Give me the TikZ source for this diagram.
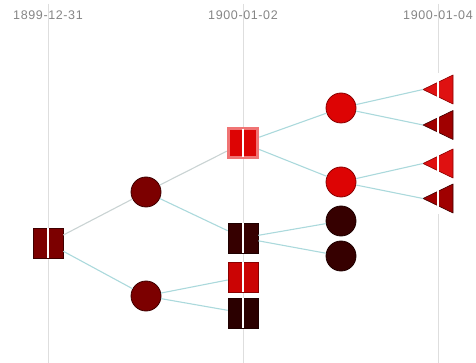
\documentclass[tikz,border=0pt]{standalone}
\usepackage{fontspec}
\newfontfamily\datefont[LetterSpace=5]{Liberation Sans}

\definecolor{gridgray}{HTML}{DEDEDE}
\definecolor{labelgray}{HTML}{858585}
\definecolor{edgecyan}{HTML}{ABD9DC}
\definecolor{edgegray}{HTML}{C9D3D3}
\definecolor{maroon}{HTML}{7C0000}
\definecolor{maroonline}{HTML}{3E0000}
\definecolor{brightred}{HTML}{DD0404}
\definecolor{brightline}{HTML}{8A0000}
\definecolor{pinkline}{HTML}{F07474}
\definecolor{blackred}{HTML}{360000}
\definecolor{blackline}{HTML}{1E0000}
\definecolor{midred}{HTML}{A00000}

\tikzset{
  gridline/.style={draw=gridgray, line width=1},
  datelabel/.style={text=labelgray, font=\datefont\fontsize{12.5}{14}\selectfont},
  edge/.style={draw=edgecyan, line width=1.1},
  greyedge/.style={draw=edgegray, line width=1.1},
  sq/.style={rectangle, minimum size=30, inner sep=0, line width=0.6},
  dot/.style={circle, minimum size=30, inner sep=0, line width=0.8},
  tri/.style={line width=0.6, line join=round},
  split/.style={draw=white, line width=1.6},
}

\begin{document}
\begin{tikzpicture}[x=1pt, y=-1pt]
  \useasboundingbox (0,0) rectangle (476,363);

  % time axis
  \draw[gridline] (48,4) -- (48,363);
  \draw[gridline] (243,4) -- (243,363);
  \draw[gridline] (438,4) -- (438,363);
  \node[datelabel] (d0) at (48,15) {1899-12-31};
  \node[datelabel] (d2) at (243,15) {1900-01-02};
  \node[datelabel] (d4) at (438,15) {1900-01-04};

  % root
  \node[sq, fill=maroon, draw=maroonline] (n0) at (48,243) {};
  % level 1
  \node[dot, fill=maroon, draw=maroonline] (n1) at (146,192) {};
  \node[dot, fill=maroon, draw=maroonline] (n2) at (146,296) {};
  % level 2
  \node[sq, fill=brightred, draw=pinkline, line width=3.5,
        minimum size=29] (n3) at (243,143) {};
  \node[sq, fill=blackred, draw=blackline] (n4) at (243,238) {};
  \node[sq, fill=brightred!92!black, draw=brightline] (n5) at (243,277) {};
  \node[sq, fill=blackred!80!black, draw=blackline] (n6) at (243,313) {};
  % level 3
  \node[dot, fill=brightred, draw=brightline] (n7) at (341,108) {};
  \node[dot, fill=brightred, draw=brightline] (n8) at (341,182) {};
  \node[dot, fill=blackred, draw=blackline] (n9) at (341,221) {};
  \node[dot, fill=blackred, draw=blackline] (n10) at (341,256) {};
  % level 4, the tips of the triangles
  \coordinate (n11) at (423,89.5);
  \coordinate (n12) at (423,125);
  \coordinate (n13) at (423,163.5);
  \coordinate (n14) at (423,198.5);
  \filldraw[tri, fill=brightred!95!white, draw=brightline] (n11) -- ++(30,-14.5) -- ++(0,29) -- cycle;
  \filldraw[tri, fill=midred, draw=maroonline] (n12) -- ++(30,-14.5) -- ++(0,29) -- cycle;
  \filldraw[tri, fill=brightred!95!white, draw=brightline] (n13) -- ++(30,-14.5) -- ++(0,29) -- cycle;
  \filldraw[tri, fill=midred, draw=maroonline] (n14) -- ++(30,-14.5) -- ++(0,29) -- cycle;

  % gaps through the squares and triangles
  \draw[split] (n0.north) -- (n0.south);
  \draw[split] ([yshift=-1.8]n3.north) -- ([yshift=1.8]n3.south);
  \draw[split] (n4.north) -- (n4.south);
  \draw[split] (n5.north) -- (n5.south);
  \draw[split] (n6.north) -- (n6.south);
  \draw[split] (438,73) -- (438,214);

  % links
  \draw[greyedge] (n0) -- (n1);
  \draw[edge] (n0) -- (n2);
  \draw[greyedge] (n1) -- (n3);
  \draw[edge] (n1) -- (n4);
  \draw[edge] (n2) -- (n5);
  \draw[edge] (n2) -- (n6);
  \draw[edge] (n3) -- (n7);
  \draw[edge] (n3) -- (n8);
  \draw[edge] (n4) -- (n9);
  \draw[edge] (n4) -- (n10);
  \draw[edge] (n7) -- (n11);
  \draw[edge] (n7) -- (n12);
  \draw[edge] (n8) -- (n13);
  \draw[edge] (n8) -- (n14);
\end{tikzpicture}
\end{document}
